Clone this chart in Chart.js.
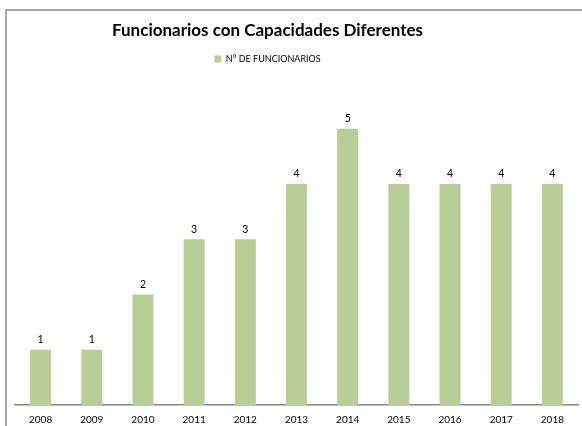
<!DOCTYPE html>
<html>
<head>
<meta charset="utf-8">
<script src="https://cdn.jsdelivr.net/npm/chart.js@4/dist/chart.umd.min.js"></script>
<style>
body{margin:0;background:#fff;}
#frame{position:absolute;left:5px;top:9px;width:600px;height:440px;border:2px solid #a6a6a6;box-sizing:border-box;}
#wrap{position:absolute;left:0;top:0;width:582px;height:426px;}
</style>
</head>
<body>
<div id="frame"></div>
<div id="wrap"><canvas id="chart" width="582" height="426"></canvas></div>
<script>
// datos del grafico
const years = ["2008","2009","2010","2011","2012","2013","2014","2015","2016","2017","2018"];
const funcionarios = [1,1,2,3,3,4,5,4,4,4,4];
const seriesName = "N° DE FUNCIONARIOS";
const chartTitle = "Funcionarios con Capacidades Diferentes";


// etiquetas encima de las barras
const valueLabels = {
  id:"valueLabels",
  afterDatasetsDraw(chart){
    let ctx = chart.ctx;
    let meta = chart.getDatasetMeta(0);
    ctx.save();
    ctx.font = "10.5px Lato";
    ctx.fillStyle = "#000";
    ctx.textAlign = "center";
    ctx.textBaseline = "middle";
    meta.data.forEach((bar,i)=>{
      ctx.fillText(funcionarios[i], bar.x, bar.y - 10);
    });
    ctx.restore();
  }
};


// titulo y leyenda centrados como en Excel (un poco a la izquierda)
const shiftHeader = {
  id:"shiftHeader",
  afterLayout(chart){
    let dx = -29;
    if(chart.titleBlock){
      chart.titleBlock.left += dx;
      chart.titleBlock.right += dx;
    }
    if(chart.legend){
      chart.legend.left += dx;
      chart.legend.right += dx;
    }
  }
};


new Chart(document.getElementById("chart"), {
  type:"bar",
  data:{
    labels:years,
    datasets:[{
      label:seriesName,
      data:funcionarios,
      backgroundColor:"#b9cd96",
      barPercentage:0.41,
      categoryPercentage:1
    }]
  },
  options:{
    responsive:false,
    animation:false,
    layout:{padding:{left:15,right:4,top:14,bottom:-9}},
    plugins:{
      title:{
        display:true,
        text:chartTitle,
        color:"#000",
        font:{family:"Lato",size:17,weight:"bold"},
        padding:{top:6,bottom:2}
      },
      legend:{
        display:true,
        labels:{
          color:"#000",
          font:{family:"Lato",size:9},
          boxWidth:7,
          boxHeight:7,
          padding:12
        }
      },
      tooltip:{enabled:false}
    },
    scales:{
      x:{
        grid:{display:false,drawTicks:false},
        border:{color:"#868686",width:1.5},
        ticks:{color:"#000",font:{family:"Lato",size:10},padding:9}
      },
      y:{
        display:false,
        min:0,
        max:6
      }
    }
  },
  plugins:[valueLabels,shiftHeader]
});
</script>
</body>
</html>
